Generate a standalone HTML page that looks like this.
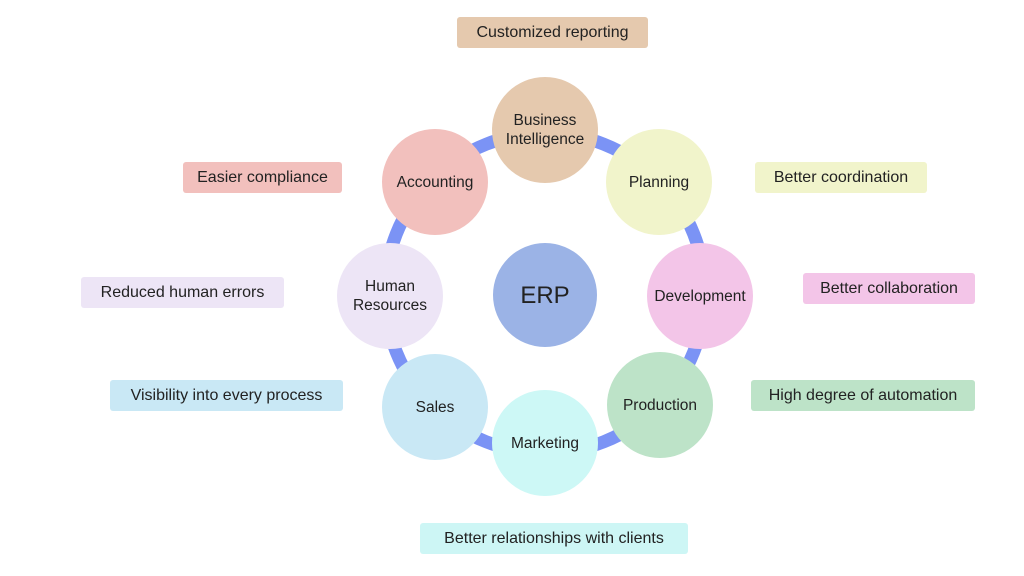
<!DOCTYPE html>
<html><head><meta charset="utf-8"><style>
body{margin:0;width:1024px;height:576px;background:#fff;overflow:hidden;font-family:"Liberation Sans",sans-serif}
.b{position:absolute;height:31px;line-height:31px;text-align:center;font-size:16px;color:#222;border-radius:3px}
.c{position:absolute;width:106px;height:106px;border-radius:50%;display:flex;align-items:center;justify-content:center;text-align:center;font-size:15.5px;color:#222;line-height:19px}
</style></head><body>
<svg width="1024" height="576" style="position:absolute;left:0;top:0">
<circle cx="545" cy="293" r="160" fill="none" stroke="#7b93f5" stroke-width="13"/>
</svg>
<div class="b" style="left:457px;top:17px;width:191px;background:#e5c9ae">Customized reporting</div>
<div class="b" style="left:183px;top:162px;width:159px;background:#f2c0bd">Easier compliance</div>
<div class="b" style="left:755px;top:162px;width:172px;background:#f1f4cb">Better coordination</div>
<div class="b" style="left:81px;top:277px;width:203px;background:#ede5f6">Reduced human errors</div>
<div class="b" style="left:803px;top:273px;width:172px;background:#f3c5e8">Better collaboration</div>
<div class="b" style="left:110px;top:380px;width:233px;background:#c9e8f5">Visibility into every process</div>
<div class="b" style="left:751px;top:380px;width:224px;background:#bde3c8">High degree of automation</div>
<div class="b" style="left:420px;top:523px;width:268px;background:#cdf6f5">Better relationships with clients</div>
<div class="c" style="left:492px;top:77px;background:#e5c9ae">Business<br>Intelligence</div>
<div class="c" style="left:606px;top:129px;background:#f1f4cb">Planning</div>
<div class="c" style="left:647px;top:243px;background:#f3c5e8">Development</div>
<div class="c" style="left:607px;top:352px;background:#bde3c8">Production</div>
<div class="c" style="left:492px;top:390px;background:#cdf8f6">Marketing</div>
<div class="c" style="left:382px;top:354px;background:#c9e8f5">Sales</div>
<div class="c" style="left:337px;top:243px;background:#ede5f6">Human<br>Resources</div>
<div class="c" style="left:382px;top:129px;background:#f2c0bd">Accounting</div>
<div class="c" style="left:493px;top:243px;width:104px;height:104px;background:#9bb3e6;font-size:24px">ERP</div>
</body></html>
